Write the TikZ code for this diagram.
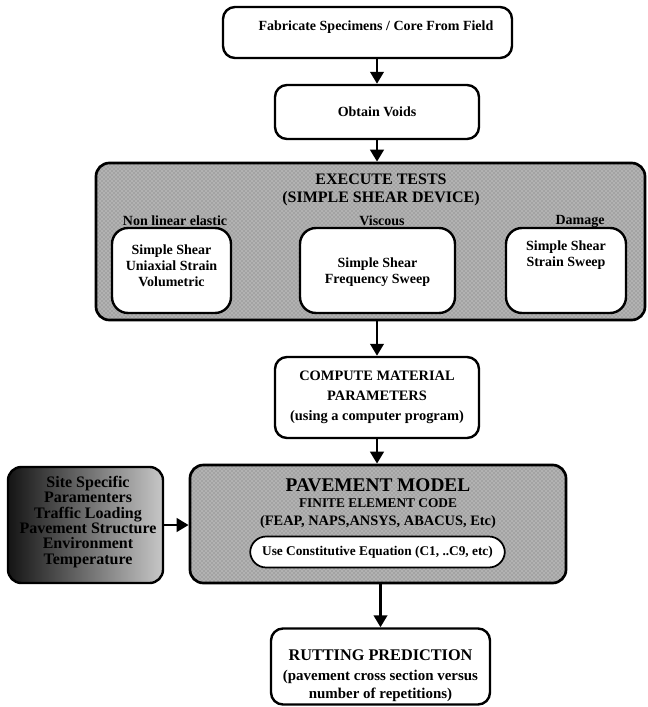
\documentclass[tikz,border=0pt]{standalone}
\usepackage{fontspec}
\setmainfont{Liberation Serif}
\usetikzlibrary{positioning,calc,patterns,arrows.meta}

\begin{document}
\begin{tikzpicture}[x=0.75pt,y=-0.75pt,
    box/.style={draw, line width=1.8pt, rounded corners=9pt, fill=white, inner sep=0pt},
    graybox/.style={draw, line width=2pt, rounded corners=10pt, inner sep=0pt,
        preaction={fill=black!30}, pattern=crosshatch dots, pattern color=black!55},
    txt/.style={font=\bfseries\fontsize{10.5}{12}\selectfont, align=center},
    arr/.style={line width=2.2pt, -{Triangle[length=9pt,width=10pt]}}]
    \useasboundingbox (0,0) rectangle (647,707);

    % Top boxes
    \node[box, minimum width=216.75pt, minimum height=38.25pt] (fab) at (367.5,32.5) {};
    \node[txt] (fabt) at (376,27) {Fabricate Specimens / Core From Field};
    \node[box, minimum width=153pt, minimum height=40.5pt, txt] (voids) at (377,112) {Obtain Voids};

    % Execute tests
    \node[graybox, minimum width=411.75pt, minimum height=117.75pt] (exec) at (370.5,241.5) {};
    \node[txt, font=\bfseries\fontsize{12}{13.5}\selectfont] (exect) at (381,190) {EXECUTE TESTS\\(SIMPLE SHEAR DEVICE)};
    \node[txt] (lnon) at (175,221) {Non linear elastic};
    \node[txt] (lvis) at (382,221) {Viscous};
    \node[txt] (ldam) at (580,221) {Damage};
    \node[box, rounded corners=12pt, minimum width=89.25pt, minimum height=63.75pt] (tnon) at (171.5,270.5) {};
    \node[txt] at (171.5,266) {Simple Shear\\Uniaxial Strain\\Volumetric};
    \node[box, rounded corners=12pt, minimum width=116.25pt, minimum height=63.75pt] (tvis) at (377.5,270.5) {};
    \node[txt] at (377.5,272.5) {Simple Shear\\Frequency Sweep};
    \node[box, rounded corners=12pt, minimum width=90pt, minimum height=63.75pt] (tdam) at (566,270.5) {};
    \node[txt] at (566,255.5) {Simple Shear\\Strain Sweep};

    % Material parameters
    \node[box, minimum width=153pt, minimum height=60.75pt, txt, font=\bfseries\fontsize{10.8}{15}\selectfont] (comp) at (377,397.5)
        {COMPUTE MATERIAL\\PARAMETERS\\(using a computer program)};

    % Pavement model
    \node[graybox, minimum width=282pt, minimum height=88.5pt] (pav) at (378,524) {};
    \node[txt, font=\bfseries\fontsize{14.5}{15}\selectfont] (pavt) at (378,485) {PAVEMENT MODEL};
    \node[txt, font=\bfseries\fontsize{10}{11}\selectfont] at (378,503) {FINITE ELEMENT CODE};
    \node[txt, font=\bfseries\fontsize{10.8}{12}\selectfont] at (378,522) {(FEAP, NAPS,ANSYS, ABACUS, Etc)};
    \node[box, rounded corners=12pt, line width=1.3pt, minimum width=191pt, minimum height=23.25pt, txt, font=\bfseries\fontsize{10}{11}\selectfont] (eqn) at (377.5,552)
        {Use Constitutive Equation (C1, ..C9, etc)};
    \node[draw, line width=1.8pt, rounded corners=10pt, inner sep=0pt, minimum width=116.25pt, minimum height=87pt,
        left color=black!92, right color=black!22] (site) at (85.5,525) {};
    \node[txt, font=\bfseries\fontsize{12}{11.5}\selectfont] at (88,522) {Site Specific\\Paramenters\\Traffic Loading\\Pavement Structure\\Environment\\Temperature};

    % Result
    \node[box, minimum width=164.25pt, minimum height=57pt] (rut) at (380.5,666.5) {};
    \node[txt, font=\bfseries\fontsize{12.2}{13}\selectfont] at (380.5,655) {RUTTING PREDICTION};
    \node[txt, font=\bfseries\fontsize{11.2}{13.5}\selectfont] at (380.5,686) {(pavement cross section versus\\number of repetitions)};

    % Arrows
    \draw[arr] (voids.north |- fab.south) -- (voids.north);
    \draw[arr] (voids.south) -- (voids.south |- exec.north);
    \draw[arr] (comp.north |- exec.south) -- (comp.north);
    \draw[arr] (comp.south) -- (comp.south |- pav.north);
    \draw[arr] (rut.north |- pav.south) -- (rut.north);
    \draw[arr] (site.east) -- (pav.west |- site.east);
\end{tikzpicture}
\end{document}
